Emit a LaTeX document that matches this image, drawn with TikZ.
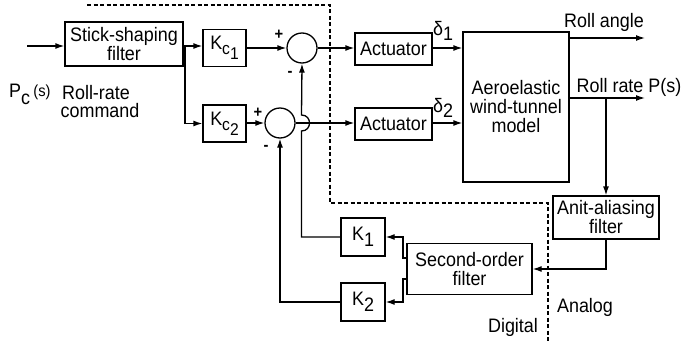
\documentclass[tikz,border=0pt]{standalone}
\usepackage{fontspec}
\setmainfont{Liberation Sans}[FakeStretch=0.92]
\usetikzlibrary{arrows.meta}
\begin{document}
\begin{tikzpicture}[x=1pt,y=-1pt,
  font=\fontsize{19.5}{19}\selectfont,
  blk/.style={draw, line width=1.3pt, inner sep=0pt, align=center},
  sumc/.style={draw, circle, line width=1.3pt, minimum size=30pt, inner sep=0pt},
  sig/.style={line width=1.3pt, -{Latex[length=9pt,width=6pt]}},
  ln/.style={line width=1.3pt},
  bound/.style={line width=1.2pt, dash pattern=on 4pt off 2.5pt},
  sgn/.style={font=\fontsize{16}{16}\bfseries, inner sep=0pt}
]
\useasboundingbox (0,0) rectangle (687,343);

% blocks
\node[blk, minimum width=118pt, minimum height=44pt] (ssf) at (124,44) {Stick-shaping\\filter};
\node[blk, minimum width=43pt, minimum height=37pt] (kc1) at (224.5,48) {K{\fontsize{17}{17}\selectfont\raisebox{-0.3em}{c\raisebox{-0.3em}{1}}}};
\node[blk, minimum width=43pt, minimum height=37pt] (kc2) at (224.5,123.5) {K{\fontsize{17}{17}\selectfont\raisebox{-0.3em}{c\raisebox{-0.3em}{2}}}};
\node[sumc] (s1) at (302,48) {};
\node[sumc] (s2) at (280,123) {};
\node[blk, minimum width=77pt, minimum height=32pt] (act1) at (393.5,49) {Actuator};
\node[blk, minimum width=77pt, minimum height=32pt] (act2) at (393.5,124) {Actuator};
\node[blk, minimum width=106pt, minimum height=150pt] (model) at (516,107) {Aeroelastic\\wind-tunnel\\model};
\node[blk, minimum width=106pt, minimum height=43pt] (aa) at (606,217.5) {Anit-aliasing\\filter};
\node[blk, minimum width=125pt, minimum height=51pt] (sof) at (469.5,269) {Second-order\\filter};
\node[blk, minimum width=44pt, minimum height=38pt] (k1) at (363,237) {K\raisebox{-0.3em}{1}};
\node[blk, minimum width=44pt, minimum height=38pt] (k2) at (363,302) {K\raisebox{-0.3em}{2}};

% helper coordinates
\coordinate (in) at (27,46);
\coordinate (br) at (185,46);
\coordinate (ra) at (645,38);
\coordinate (rre) at (645,98);
\coordinate (rr) at (606,98);
\coordinate (sofa) at (407,258);
\coordinate (sofb) at (407,279);

% connectors
\draw[sig] (in) -- (ssf.west |- in);
\draw[ln] (ssf.east |- br) -- (br);
\draw[sig] (br) -- (kc1.west |- br);
\draw[sig] (br) |- (kc2.west);
\draw[sig] (kc1.east |- s1) -- (s1.west);
\draw[sig] (kc2.east |- s2) -- (s2.west);
\draw[sig] (s1.east) -- (act1.west |- s1);
\draw[sig] (s2.east) -- (act2.west |- s2);
\draw[sig] (act1.east |- s1) -- (model.west |- s1);
\draw[sig] (act2.east |- s2) -- (model.west |- s2);
\draw[sig] (model.east |- ra) -- (ra);
\draw[sig] (model.east |- rre) -- (rre);
\draw[sig] (rr) -- (aa.north);
\draw[sig] (aa.south) |- (sof.east);
\draw[sig] (sofa) -- (403,258) |- (k1.east);
\draw[sig] (sofb) -- (403,279) |- (k2.east);
\draw[sig] (k1.west) -- (301.5,237) -- (301.5,131)
   .. controls (312.2,131) and (312.2,115) .. (301.5,115) -- (s1.south);
\draw[sig] (k2.west) -| (s2.south);

% digital / analog boundary
\draw[bound] (87,5) -- (330,5) -- (330,203) -- (548,203) -- (548,343);

% labels
\node[sgn] at (279,35) {+};
\node[sgn] at (290,74) {-};
\node[sgn] at (258,113) {+};
\node[sgn] at (266,148) {-};
\node at (443,31) {δ\raisebox{-0.3em}{1}};
\node at (443,108) {δ\raisebox{-0.3em}{2}};
\node at (604,22) {Roll angle};
\node at (629,87) {Roll rate P(s)};
\node at (585,307) {Analog};
\node at (513,327) {Digital};
\node[anchor=west, inner sep=0pt] at (9,94) {P\raisebox{-0.35em}{c}\,\raisebox{0.05em}{\fontsize{16}{16}\selectfont(s)}};
\node at (96,93) {Roll-rate};
\node at (100,111) {command};
\end{tikzpicture}
\end{document}
